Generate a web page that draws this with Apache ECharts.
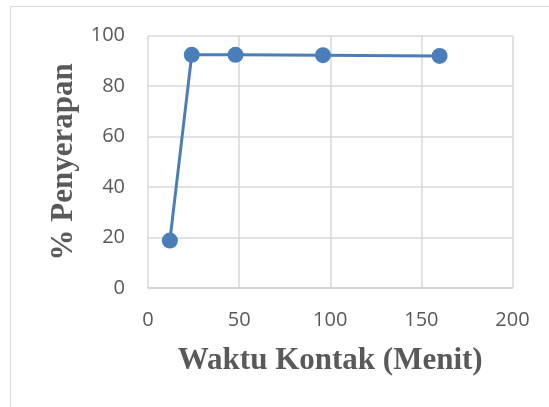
<!DOCTYPE html>
<html>
<head>
<meta charset="utf-8">
<script src="https://cdn.jsdelivr.net/npm/echarts@6/dist/echarts.min.js"></script>
<style>
html,body{margin:0;padding:0;background:#fff;}
#c{width:549px;height:407px;}
</style>
</head>
<body>
<div id="c"></div>
<script>
var waktu = [12, 24, 48, 96, 160];
var penyerapan = [18.8, 92.4, 92.4, 92.3, 92.0];
var xTitle = 'Waktu Kontak (Menit)';
var yTitle = '% Penyerapan';

var chart = echarts.init(document.getElementById('c'), null, {renderer: 'canvas'});
var pts = waktu.map(function (x, i) { return [x, penyerapan[i]]; });
chart.setOption({
  backgroundColor: '#ffffff',
  animation: false,
  graphic: [{
    type: 'rect', silent: true,
    shape: {x: 10.5, y: 6.5, width: 600, height: 450},
    style: {fill: 'none', stroke: '#d9d9d9', lineWidth: 1}
  }],
  grid: {left: 148, right: 36.5, top: 35.7, bottom: 119, containLabel: false},
  xAxis: {
    type: 'value', min: 0, max: 200, interval: 50,
    name: xTitle, nameLocation: 'middle', nameGap: 57,
    nameTextStyle: {fontFamily: 'Liberation Serif', fontWeight: 'bold', fontSize: 31, color: '#595959'},
    axisLine: {show: true, lineStyle: {color: '#d0d0d0', width: 1.5}},
    axisTick: {show: false},
    axisLabel: {margin: 22, fontFamily: 'Open Sans', fontSize: 20, color: '#595959'},
    splitLine: {show: true, lineStyle: {color: '#d9d9d9', width: 1.5}}
  },
  yAxis: {
    type: 'value', min: 0, max: 100, interval: 20,
    name: yTitle, nameLocation: 'middle', nameGap: 68,
    nameTextStyle: {fontFamily: 'Liberation Serif', fontWeight: 'bold', fontSize: 31, color: '#595959'},
    axisLine: {show: false},
    axisTick: {show: false},
    axisLabel: {margin: 23, fontFamily: 'Open Sans', fontSize: 20, color: '#595959'},
    splitLine: {show: true, lineStyle: {color: '#d9d9d9', width: 1.5}}
  },
  series: [{
    type: 'line', data: pts,
    symbol: 'circle', symbolSize: 16,
    lineStyle: {color: '#4a7ebb', width: 3},
    itemStyle: {color: '#4a7ebb'}
  }]
});
</script>
</body>
</html>
